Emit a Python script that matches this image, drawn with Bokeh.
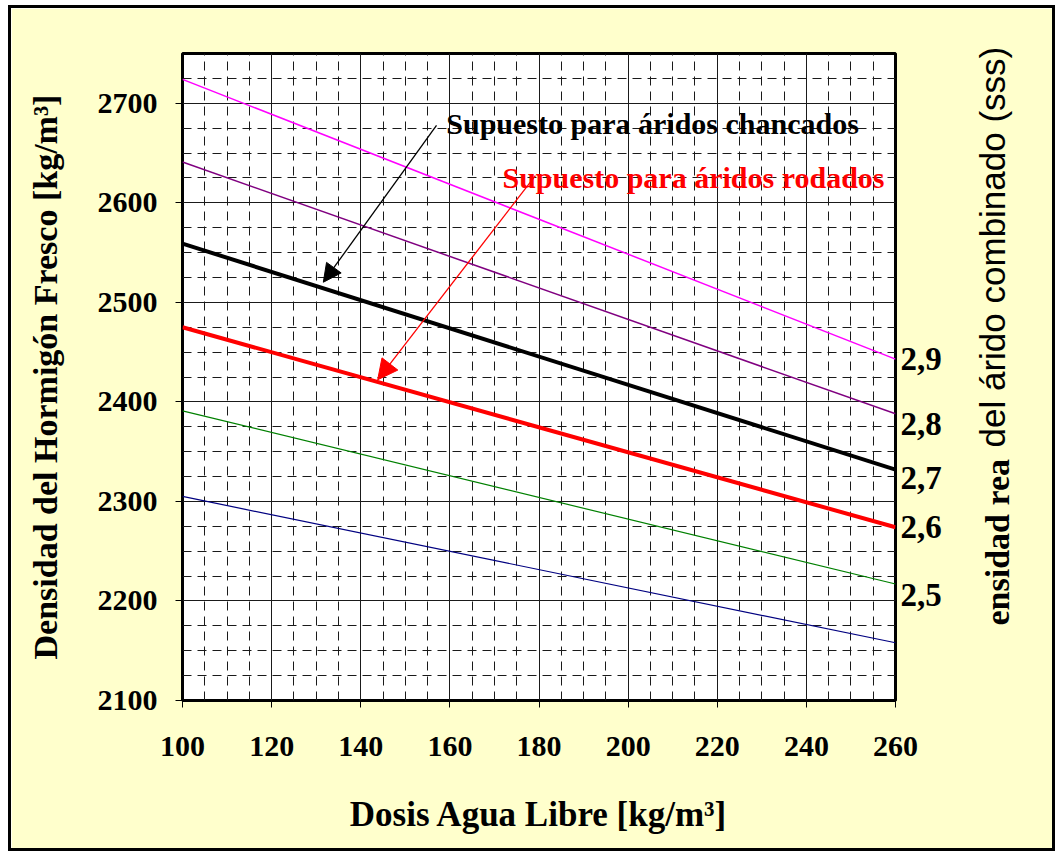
import math
from bokeh.plotting import figure
from bokeh.models import (LinearAxis, FixedTicker, SingleIntervalTicker, Label,
                          Arrow, NormalHead, Range1d)
from bokeh.embed import file_html
from bokeh.resources import INLINE

# ---- data ----
water = [100, 260]                      # Dosis Agua Libre [kg/m3]
dens_29 = [2724, 2443]                  # árido 2,9
dens_28 = [2641, 2388]                  # árido 2,8
dens_27 = [2559, 2332]                  # árido 2,7 (supuesto chancados)
dens_26 = [2475, 2274]                  # árido 2,6 (supuesto rodados)
dens_25 = [2391, 2217]                  # árido 2,5
dens_24 = [2305, 2158]                  # árido 2,4

right_tick_pos = [2443.0, 2378.0, 2324.0, 2274.0, 2206.0]
right_tick_labels = ["2,9", "2,8", "2,7", "2,6", "2,5"]

# right-hand title, drawn in two pieces as in the reference
right_title_sans = "del árido combinado (sss)"
right_title_sans_pos = 2354.2
right_title_bold = "ensidad rea"
right_title_bold_pos = 2175.3

series = [dens_29, dens_28, dens_27, dens_26, dens_25, dens_24]
colors = ["#FF00FF", "#800080", "#000000", "#FF0000", "#008000", "#000080"]
widths = [1.5, 1.5, 4, 4, 1.2, 1.2]

BG = "#FFFFCC"
SERIF = "Liberation Serif"
SANS = "Liberation Sans"

p = figure(width=1041, height=840, x_range=Range1d(100, 260), y_range=Range1d(2100, 2750),
           output_backend="svg", toolbar_location=None,
           min_border_left=171, min_border_right=163, min_border_top=45, min_border_bottom=154)
p.styles = {"border": "3px solid black", "box-sizing": "content-box",
            "margin-left": "8px", "margin-top": "5px"}
p.background_fill_color = "white"
p.border_fill_color = BG
p.outline_line_color = "black"
p.outline_line_width = 3

xt = SingleIntervalTicker(interval=20, num_minor_ticks=4)
yt = SingleIntervalTicker(interval=100, num_minor_ticks=4)
p.xaxis.ticker = xt
p.yaxis.ticker = yt
p.xgrid.ticker = xt
p.ygrid.ticker = yt

for g in (p.xgrid, p.ygrid):
    g.grid_line_color = "#1a1a1a"
    g.grid_line_width = 1
    g.minor_grid_line_color = "#1a1a1a"
    g.minor_grid_line_width = 1
    g.minor_grid_line_dash = "9 6"

for ax in (p.xaxis[0], p.yaxis[0]):
    ax.axis_line_color = None
    ax.major_tick_out = 7
    ax.major_tick_in = 0
    ax.major_tick_line_color = "black"
    ax.minor_tick_line_color = None
    ax.major_label_text_font = SERIF
    ax.major_label_text_font_style = "bold"
    ax.major_label_text_font_size = "30px"
    ax.major_label_text_color = "black"
    ax.axis_label_text_font = SERIF
    ax.axis_label_text_font_style = "bold"
    ax.axis_label_text_color = "black"

p.xaxis.major_label_standoff = 29
p.yaxis.major_label_standoff = 18
p.xaxis.axis_label = "Dosis Agua Libre [kg/m³]"
p.xaxis.axis_label_text_font_size = "35px"
p.xaxis.axis_label_standoff = 36
p.yaxis.axis_label = "Densidad del Hormigón Fresco [kg/m³]"
p.yaxis.axis_label_text_font_size = "34px"
p.yaxis.axis_label_standoff = 31


def bare_right_axis(ticks, labels, font, style, size, standoff, orient=None):
    ax = LinearAxis(ticker=FixedTicker(ticks=ticks, minor_ticks=[]),
                    major_label_overrides={k: v for k, v in zip(ticks, labels)})
    ax.axis_line_color = None
    ax.major_tick_line_color = None
    ax.major_tick_out = 0
    ax.major_tick_in = 0
    ax.minor_tick_line_color = None
    ax.major_label_standoff = standoff
    ax.major_label_text_font = font
    ax.major_label_text_font_style = style
    ax.major_label_text_font_size = size
    ax.major_label_text_color = "black"
    if orient is not None:
        ax.major_label_orientation = orient
    p.add_layout(ax, "right")
    return ax


bare_right_axis(right_tick_pos, right_tick_labels, SERIF, "bold", "33px", 5)
bare_right_axis([right_title_sans_pos], [right_title_sans], SANS, "normal", "35px", 48,
                orient=math.pi / 2)
bare_right_axis([right_title_bold_pos], [right_title_bold], SERIF, "bold", "34px", -37,
                orient=math.pi / 2)

for ys, c, w in zip(series, colors, widths):
    p.line(water, ys, line_color=c, line_width=w)

# annotations
p.add_layout(Label(x=159.2, y=2679.7, text="Supuesto para áridos chancados",
                   text_font=SERIF, text_font_style="bold", text_font_size="30px",
                   text_color="black", text_baseline="alphabetic"))
p.add_layout(Label(x=171.8, y=2625.4, text="Supuesto para áridos rodados",
                   text_font=SERIF, text_font_style="bold", text_font_size="30px",
                   text_color="#FF0000", text_baseline="alphabetic"))
p.add_layout(Arrow(x_start=157.0, y_start=2677.7, x_end=131.6, y_end=2520.2,
                   line_color="black", line_width=1.3,
                   end=NormalHead(size=18, fill_color="black", line_color="black")))
p.add_layout(Arrow(x_start=179.2, y_start=2627.4, x_end=143.8, y_end=2422.2,
                   line_color="#FF0000", line_width=1.3,
                   end=NormalHead(size=20, fill_color="#FF0000", line_color="#FF0000")))

open("out.html", "w").write(file_html(p, INLINE))
